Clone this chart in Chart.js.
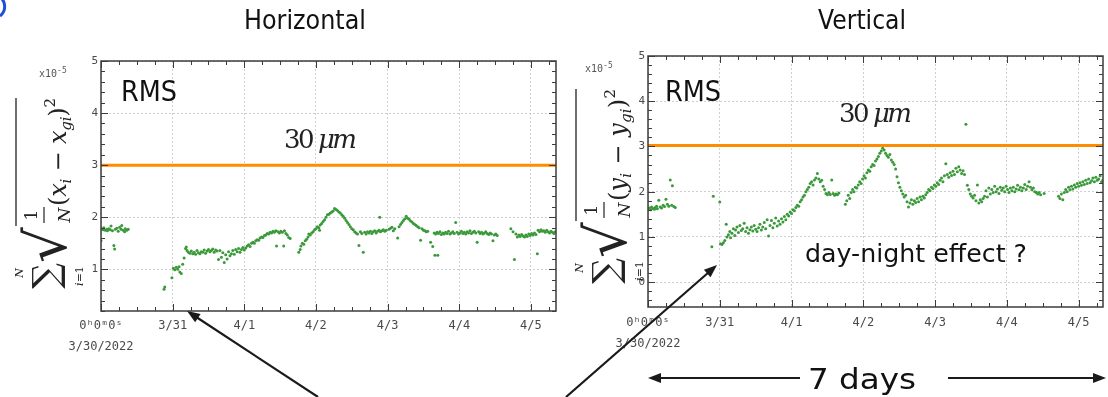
<!DOCTYPE html>
<html>
<head>
<meta charset="utf-8">
<script src="https://cdn.jsdelivr.net/npm/chart.js@4.4.1/dist/chart.umd.min.js"></script>
<style>
  html, body { margin: 0; padding: 0; background: #fff; }
  #page { position: relative; width: 1108px; height: 397px; overflow: hidden; }
  canvas { position: absolute; top: 0; }
  #hChart { left: 0; }
  #vChart { left: 560px; }
  #overlay { position: absolute; left: 0; top: 0; }
  .sans { font-family: 'DejaVu Sans', sans-serif; fill: #111; }
  .serif { font-family: 'DejaVu Serif', serif; fill: #222; }
  .mono { font-family: 'DejaVu Sans Mono', monospace; fill: #555; }
</style>
</head>
<body>
<div id="page">
  <canvas id="hChart" width="560" height="397"></canvas>
  <canvas id="vChart" width="548" height="397"></canvas>
  <svg id="overlay" width="1108" height="397">
    <path d="M 0 -3 A 12 12 0 0 1 0 16" fill="none" stroke="#1f4fd8" stroke-width="3"/>
    <text class="sans" x="305" y="29" font-size="27" text-anchor="middle" textLength="122" lengthAdjust="spacingAndGlyphs">Horizontal</text>
    <text class="sans" x="862" y="29" font-size="27" text-anchor="middle" textLength="88" lengthAdjust="spacingAndGlyphs">Vertical</text>

    <text class="mono" x="39" y="77" font-size="10">x10<tspan dy="-4" font-size="8">-5</tspan></text>
    <text class="mono" x="585" y="72" font-size="10">x10<tspan dy="-4" font-size="8">-5</tspan></text>

    <text class="sans" x="121" y="101" font-size="28" textLength="56" lengthAdjust="spacingAndGlyphs">RMS</text>
    <text class="sans" x="665" y="101" font-size="28" textLength="56" lengthAdjust="spacingAndGlyphs">RMS</text>

    <text class="serif" x="284" y="148" font-size="26" textLength="73" lengthAdjust="spacing">30 <tspan font-style="italic">μm</tspan></text>
    <text class="serif" x="839" y="122" font-size="26" textLength="73" lengthAdjust="spacing">30 <tspan font-style="italic">μm</tspan></text>

    <text class="sans" x="805" y="262" font-size="24" textLength="222" lengthAdjust="spacingAndGlyphs">day-night effect ?</text>
    <text class="sans" x="862" y="389" font-size="29" text-anchor="middle" textLength="108" lengthAdjust="spacingAndGlyphs">7 days</text>

    <!-- formula, horizontal -->
    <g transform="translate(0,290) rotate(-90)">
      <text class="serif" x="14" y="58" font-size="36" text-anchor="middle">∑</text>
      <text class="serif" x="17" y="23" font-size="11" font-style="italic" text-anchor="middle">N</text>
      <text class="serif" x="14" y="83" font-size="11" text-anchor="middle"><tspan font-style="italic">i</tspan>=1</text>
      <text class="serif" x="27" y="66" font-size="56">√</text>
      <line x1="64" y1="16" x2="192" y2="16" stroke="#222" stroke-width="1.3"/>
      <text class="serif" x="75" y="37" font-size="17" text-anchor="middle">1</text>
      <line x1="67" y1="44" x2="83" y2="44" stroke="#222" stroke-width="1.2"/>
      <text class="serif" x="75" y="70" font-size="17" font-style="italic" text-anchor="middle">N</text>
      <text class="serif" x="84" y="66" font-size="24" textLength="108" lengthAdjust="spacing">(<tspan font-style="italic">x</tspan><tspan font-size="15" dy="5" font-style="italic">i</tspan><tspan dy="-5"> − </tspan><tspan font-style="italic">x</tspan><tspan font-size="15" dy="5" font-style="italic">gi</tspan><tspan dy="-5">)</tspan><tspan font-size="15" dy="-11">2</tspan></text>
    </g>
    <!-- formula, vertical -->
    <g transform="translate(560,285) rotate(-90)">
      <text class="serif" x="14" y="58" font-size="36" text-anchor="middle">∑</text>
      <text class="serif" x="17" y="23" font-size="11" font-style="italic" text-anchor="middle">N</text>
      <text class="serif" x="14" y="83" font-size="11" text-anchor="middle"><tspan font-style="italic">i</tspan>=1</text>
      <text class="serif" x="27" y="66" font-size="56">√</text>
      <line x1="64" y1="16" x2="196" y2="16" stroke="#222" stroke-width="1.3"/>
      <text class="serif" x="75" y="37" font-size="17" text-anchor="middle">1</text>
      <line x1="67" y1="44" x2="83" y2="44" stroke="#222" stroke-width="1.2"/>
      <text class="serif" x="75" y="70" font-size="17" font-style="italic" text-anchor="middle">N</text>
      <text class="serif" x="84" y="66" font-size="24" textLength="112" lengthAdjust="spacing">(<tspan font-style="italic">y</tspan><tspan font-size="15" dy="5" font-style="italic">i</tspan><tspan dy="-5"> − </tspan><tspan font-style="italic">y</tspan><tspan font-size="15" dy="5" font-style="italic">gi</tspan><tspan dy="-5">)</tspan><tspan font-size="15" dy="-11">2</tspan></text>
    </g>
  </svg>
</div>
<script>
// RMS of beam position residuals, 3/30/2022 00:00 onwards (x = days, y = x1e-5)
const dayTicks = [0, 1, 2, 3, 4, 5, 6];
const dayLabels = [['0ʰ0ᵐ0ˢ', '3/30/2022'], '3/31', '4/1', '4/2', '4/3', '4/4', '4/5'];
const hYTicks = [1, 2, 3, 4, 5];
const vYTicks = [0, 1, 2, 3, 4, 5];
const hLimit = 3.0;   // 30 um
const vLimit = 3.02;

const hRmsPoints = [
  [0.00,1.55],[0.01,1.78],[0.03,1.76],[0.04,1.80],[0.06,1.75],[0.08,1.77],[0.09,1.74],[0.11,1.78],
  [0.13,1.76],[0.14,1.83],[0.16,1.74],[0.18,1.46],[0.19,1.39],[0.20,1.77],[0.22,1.79],[0.24,1.73],
  [0.26,1.81],[0.28,1.77],[0.29,1.84],[0.31,1.75],[0.33,1.72],[0.34,1.78],[0.36,1.75],[0.38,1.77],
  [0.88,0.62],[0.89,0.66],[0.99,0.84],[1.01,1.02],[1.03,0.99],[1.05,1.04],[1.07,1.00],[1.09,1.05],
  [1.10,0.95],[1.12,0.92],[1.14,1.10],[1.16,1.22],[1.18,1.40],[1.19,1.43],[1.20,1.36],[1.22,1.33],
  [1.24,1.31],[1.26,1.35],[1.28,1.30],[1.30,1.33],[1.32,1.29],[1.34,1.36],[1.36,1.32],[1.38,1.30],
  [1.40,1.34],[1.42,1.33],[1.44,1.37],[1.46,1.31],[1.48,1.35],[1.50,1.38],[1.52,1.34],[1.54,1.36],
  [1.56,1.39],[1.58,1.33],[1.60,1.37],[1.62,1.35],[1.64,1.19],[1.66,1.36],[1.68,1.23],[1.70,1.32],
  [1.72,1.13],[1.74,1.28],[1.76,1.20],[1.78,1.34],[1.80,1.26],[1.82,1.30],[1.84,1.36],[1.86,1.29],
  [1.88,1.38],[1.90,1.34],[1.92,1.40],[1.94,1.33],[1.96,1.38],[1.98,1.42],[2.00,1.37],[2.02,1.41],
  [2.04,1.45],[2.06,1.47],[2.08,1.44],[2.10,1.50],[2.12,1.52],[2.14,1.50],[2.16,1.55],[2.18,1.57],
  [2.20,1.56],[2.22,1.60],[2.24,1.62],[2.26,1.61],[2.28,1.65],[2.30,1.66],[2.32,1.69],[2.34,1.68],
  [2.36,1.71],[2.38,1.70],[2.40,1.73],[2.42,1.71],[2.44,1.74],[2.45,1.45],[2.47,1.72],[2.49,1.70],
  [2.51,1.73],[2.53,1.71],[2.55,1.45],[2.56,1.74],[2.58,1.69],[2.60,1.66],[2.62,1.61],[2.64,1.59],
  [2.76,1.33],[2.78,1.38],[2.79,1.45],[2.81,1.50],[2.83,1.48],[2.85,1.55],[2.87,1.58],[2.89,1.62],
  [2.90,1.68],[2.92,1.66],[2.94,1.70],[2.96,1.72],[2.98,1.76],[3.00,1.78],[3.02,1.82],[3.04,1.80],
  [3.05,1.75],[3.06,1.85],[3.08,1.88],[3.10,1.92],[3.12,1.95],[3.14,2.00],[3.16,2.05],[3.18,2.06],
  [3.20,2.08],[3.22,2.10],[3.24,2.12],[3.26,2.17],[3.28,2.15],[3.30,2.13],[3.32,2.10],[3.34,2.08],
  [3.36,2.05],[3.38,2.02],[3.40,1.98],[3.42,1.94],[3.44,1.90],[3.46,1.86],[3.48,1.82],[3.50,1.78],
  [3.52,1.76],[3.54,1.72],[3.56,1.70],[3.58,1.68],[3.60,1.46],[3.62,1.72],[3.64,1.69],[3.66,1.33],
  [3.68,1.71],[3.70,1.68],[3.72,1.72],[3.74,1.70],[3.76,1.73],[3.78,1.69],[3.80,1.72],[3.82,1.74],
  [3.84,1.70],[3.86,1.73],[3.88,1.75],[3.89,2.00],[3.90,1.72],[3.92,1.74],[3.94,1.76],[3.96,1.73],
  [3.98,1.75],[4.02,1.77],[4.04,1.79],[4.06,1.81],[4.08,1.74],[4.10,1.78],[4.14,1.60],[4.16,1.82],
  [4.18,1.86],[4.20,1.90],[4.22,1.94],[4.24,1.97],[4.26,2.02],[4.28,1.98],[4.30,1.96],[4.32,1.93],
  [4.34,1.91],[4.36,1.88],[4.38,1.86],[4.40,1.84],[4.42,1.82],[4.44,1.80],[4.46,1.56],[4.48,1.78],
  [4.50,1.75],[4.52,1.74],[4.54,1.72],[4.56,1.73],[4.60,1.52],[4.63,1.44],[4.66,1.27],[4.70,1.27],
  [4.65,1.70],[4.67,1.68],[4.69,1.71],[4.71,1.69],[4.73,1.72],[4.75,1.67],[4.77,1.70],[4.79,1.68],
  [4.81,1.71],[4.83,1.69],[4.85,1.73],[4.87,1.68],[4.89,1.70],[4.91,1.72],[4.93,1.69],[4.95,1.90],
  [4.97,1.71],[4.99,1.68],[5.01,1.70],[5.03,1.73],[5.05,1.69],[5.07,1.71],[5.09,1.68],[5.11,1.72],
  [5.13,1.70],[5.15,1.74],[5.17,1.69],[5.19,1.71],[5.21,1.73],[5.23,1.70],[5.25,1.52],[5.27,1.72],
  [5.29,1.69],[5.31,1.71],[5.33,1.68],[5.35,1.70],[5.37,1.72],[5.39,1.69],[5.41,1.67],[5.43,1.70],
  [5.45,1.68],[5.47,1.55],[5.49,1.66],[5.51,1.68],[5.53,1.65],
  [5.72,1.78],[5.75,1.72],[5.77,1.19],[5.79,1.68],[5.81,1.62],[5.83,1.66],[5.85,1.63],[5.87,1.67],
  [5.89,1.64],[5.91,1.62],[5.93,1.66],[5.95,1.63],[5.97,1.68],[5.99,1.65],[6.01,1.69],[6.03,1.66],
  [6.05,1.70],[6.07,1.67],[6.09,1.30],[6.10,1.75],[6.12,1.72],[6.14,1.76],[6.16,1.73],[6.18,1.74],
  [6.20,1.71],[6.22,1.75],[6.24,1.72],[6.26,1.70],[6.28,1.73],[6.30,1.71],[6.32,1.69],[6.34,1.72]
];

const vRmsPoints = [
  [0.00,1.62],[0.02,1.64],[0.04,1.60],[0.05,1.66],[0.07,1.63],[0.09,1.61],[0.10,1.65],[0.12,1.68],
  [0.13,1.62],[0.15,1.81],[0.17,1.66],[0.19,1.64],[0.21,1.70],[0.23,1.67],[0.25,1.83],[0.27,1.72],
  [0.29,1.68],[0.31,2.26],[0.33,1.70],[0.34,2.13],[0.36,1.67],[0.38,1.65],
  [0.89,0.78],[0.91,1.90],[1.00,1.77],[1.01,0.85],[1.03,0.83],[1.05,0.87],[1.07,0.92],[1.09,1.28],
  [1.10,1.00],[1.12,1.05],[1.14,1.12],[1.15,0.98],[1.17,1.08],[1.19,1.18],[1.21,1.03],[1.22,1.15],
  [1.24,1.22],[1.26,1.10],[1.28,1.25],[1.30,1.14],[1.32,1.18],[1.34,1.30],[1.36,1.12],[1.38,1.20],
  [1.40,1.08],[1.42,1.16],[1.44,1.22],[1.46,1.13],[1.48,1.25],[1.50,1.17],[1.52,1.12],[1.54,1.20],
  [1.56,1.28],[1.58,1.15],[1.60,1.22],[1.62,1.32],[1.64,1.18],[1.66,1.38],[1.68,1.02],[1.70,1.25],
  [1.72,1.36],[1.74,1.20],[1.76,1.30],[1.78,1.42],[1.80,1.24],[1.82,1.35],[1.84,1.28],[1.86,1.40],
  [1.88,1.33],[1.90,1.45],[1.92,1.38],[1.94,1.50],[1.96,1.46],[1.98,1.55],[2.00,1.52],[2.02,1.60],
  [2.04,1.58],[2.06,1.65],[2.08,1.70],[2.10,1.68],[2.12,1.78],[2.14,1.82],[2.16,1.88],[2.18,1.92],
  [2.20,2.00],[2.22,2.05],[2.24,2.10],[2.26,2.18],[2.28,2.22],[2.30,2.15],[2.32,2.26],[2.34,2.30],
  [2.36,2.40],[2.38,2.28],[2.40,2.22],[2.42,2.25],[2.44,2.12],[2.46,2.05],[2.48,1.96],[2.50,1.93],
  [2.52,1.98],[2.54,1.94],[2.56,2.26],[2.58,1.96],[2.60,1.92],[2.62,1.95],[2.64,1.93],[2.66,1.97],
  [2.75,1.72],[2.77,1.80],[2.79,1.92],[2.81,1.85],[2.83,1.98],[2.85,2.05],[2.87,2.00],[2.89,2.10],
  [2.91,2.08],[2.93,2.15],[2.95,2.22],[2.97,2.18],[2.99,2.28],[3.01,2.35],[3.03,2.30],[3.05,2.42],
  [3.07,2.48],[3.09,2.45],[3.11,2.55],[3.13,2.60],[3.15,2.58],[3.17,2.68],[3.19,2.72],[3.21,2.78],
  [3.23,2.85],[3.25,2.90],[3.27,2.96],[3.29,2.92],[3.31,2.85],[3.33,2.80],[3.35,2.76],[3.37,2.82],
  [3.39,2.70],[3.41,2.65],[3.43,2.60],[3.45,2.50],[3.47,2.33],[3.49,2.20],[3.51,2.10],[3.53,2.02],
  [3.55,1.95],[3.57,1.88],[3.59,1.92],[3.61,1.78],[3.63,1.66],[3.65,1.75],[3.67,1.82],[3.69,1.72],
  [3.71,1.80],[3.73,1.76],[3.75,1.85],[3.77,1.78],[3.79,1.88],[3.81,1.82],[3.83,1.90],[3.85,1.86],
  [3.87,1.93],[3.89,1.98],[3.91,2.05],[3.93,2.02],[3.95,2.10],[3.97,2.07],[3.99,2.15],[4.01,2.12],
  [4.03,2.20],[4.05,2.16],[4.07,2.25],[4.09,2.30],[4.11,2.22],[4.13,2.35],[4.15,2.62],[4.17,2.38],
  [4.19,2.32],[4.21,2.42],[4.23,2.36],[4.25,2.45],[4.27,2.38],[4.29,2.52],[4.31,2.44],[4.33,2.55],
  [4.35,2.48],[4.37,2.40],[4.39,2.46],[4.41,2.38],[4.43,3.49],[4.45,2.14],[4.47,2.05],[4.49,1.95],
  [4.51,1.90],[4.53,1.86],[4.55,1.92],[4.57,1.80],[4.59,2.15],[4.61,1.75],[4.63,1.82],[4.65,1.78],
  [4.67,1.85],[4.69,1.90],[4.71,2.02],[4.73,1.88],[4.75,2.08],[4.77,1.95],[4.79,2.05],[4.81,1.98],
  [4.83,2.12],[4.85,2.00],[4.87,2.06],[4.89,1.96],[4.91,2.10],[4.93,2.03],[4.95,2.08],[4.97,2.00],
  [4.99,2.12],[5.01,2.05],[5.03,1.98],[5.05,2.08],[5.07,2.02],[5.09,2.10],[5.11,2.00],[5.13,2.06],
  [5.15,2.14],[5.17,2.04],[5.19,2.10],[5.21,2.02],[5.23,2.08],[5.25,2.16],[5.27,2.05],[5.29,2.12],
  [5.31,2.22],[5.33,2.10],[5.35,2.04],[5.37,2.08],[5.39,2.00],[5.41,1.98],[5.43,1.95],[5.45,1.98],
  [5.47,1.93],[5.52,1.96],
  [5.72,1.90],[5.74,1.85],[5.76,1.95],[5.78,1.82],[5.80,1.98],[5.82,2.05],[5.84,2.00],[5.86,2.10],
  [5.88,2.04],[5.90,2.12],[5.92,2.06],[5.94,2.15],[5.96,2.10],[5.98,2.18],[6.00,2.12],[6.02,2.20],
  [6.04,2.14],[6.06,2.22],[6.08,2.16],[6.10,2.25],[6.12,2.18],[6.14,2.28],[6.16,2.20],[6.18,2.24],
  [6.20,2.30],[6.22,2.22],[6.24,2.32],[6.26,2.25],[6.28,2.28],[6.30,2.35],[6.32,2.22],[6.34,2.26]
];

// frame + inward ticks on all four sides, like the original plot package
const frameTicks = {
  id: 'frameTicks',
  afterDatasetsDraw(chart) {
    const { ctx, chartArea: a, scales: { x, y } } = chart;
    ctx.save();
    ctx.strokeStyle = '#3c3c3c';
    ctx.lineWidth = 1;
    ctx.beginPath();
    for (let d = Math.ceil(x.min * 4) / 4; d <= x.max + 1e-9; d += 0.25) {
      const px = Math.round(x.getPixelForValue(d)) + 0.5;
      const len = Math.abs(d - Math.round(d)) < 1e-6 ? 7 : 4;
      ctx.moveTo(px, a.bottom); ctx.lineTo(px, a.bottom - len);
      ctx.moveTo(px, a.top); ctx.lineTo(px, a.top + len);
    }
    for (let v = Math.ceil(y.min * 5) / 5; v <= y.max + 1e-9; v += 0.2) {
      const py = Math.round(y.getPixelForValue(v)) + 0.5;
      const len = Math.abs(v - Math.round(v)) < 1e-6 ? 7 : 4;
      ctx.moveTo(a.left, py); ctx.lineTo(a.left + len, py);
      ctx.moveTo(a.right, py); ctx.lineTo(a.right - len, py);
    }
    ctx.stroke();
    ctx.lineWidth = 1.5;
    ctx.strokeRect(a.left, a.top, a.right - a.left, a.bottom - a.top);
    ctx.restore();
  }
};

function buildChart(id, points, limit, yMin, yTicks, box) {
  return new Chart(document.getElementById(id), {
    type: 'scatter',
    data: {
      datasets: [
        {
          type: 'line',
          data: [{ x: box.xMin, y: limit }, { x: box.xMax, y: limit }],
          borderColor: '#ff8c00', borderWidth: 3, pointRadius: 0, order: 2
        },
        {
          data: points.map(p => ({ x: p[0], y: p[1] })),
          backgroundColor: '#3a9a3a', pointRadius: 1.5, borderWidth: 0, order: 1
        }
      ]
    },
    options: {
      responsive: false,
      animation: false,
      layout: { padding: { top: box.top, right: box.right, left: 0, bottom: 0 } },
      plugins: { legend: { display: false }, tooltip: { enabled: false } },
      scales: {
        x: {
          type: 'linear', min: box.xMin, max: box.xMax,
          afterBuildTicks: s => { s.ticks = dayTicks.map(v => ({ value: v })); },
          afterFit: s => { s.height = box.xAxisH; },
          grid: { color: '#cfcfcf', drawTicks: false },
          border: { display: false, dash: [2, 2] },
          ticks: {
            padding: box.xPad, maxRotation: 0, autoSkip: false, color: '#4a4a4a',
            font: { family: 'DejaVu Sans Mono', size: 12, lineHeight: 1.7 },
            callback: (v, i) => dayLabels[i]
          }
        },
        y: {
          min: yMin, max: 5,
          afterBuildTicks: s => { s.ticks = yTicks.map(v => ({ value: v })); },
          afterFit: s => { s.width = box.yAxisW; },
          grid: { color: '#cfcfcf', drawTicks: false },
          border: { display: false, dash: [2, 2] },
          ticks: {
            padding: 3, color: '#4a4a4a',
            font: { family: 'DejaVu Sans Mono', size: 11 },
            callback: v => String(v)
          }
        }
      }
    },
    plugins: [frameTicks]
  });
}

buildChart('hChart', hRmsPoints, hLimit, 0.2, hYTicks,
  { xMin: 0, xMax: 6.35, top: 61, right: 4, yAxisW: 101, xAxisH: 86, xPad: 5 });
buildChart('vChart', vRmsPoints, vLimit, -0.55, vYTicks,
  { xMin: 0, xMax: 6.34, top: 56, right: 5, yAxisW: 88, xAxisH: 90, xPad: 6 });

// annotation arrows
function arrow(x1, y1, x2, y2) {
  const svg = document.getElementById('overlay');
  const ns = 'http://www.w3.org/2000/svg';
  const dx = x2 - x1, dy = y2 - y1, len = Math.hypot(dx, dy);
  const ux = dx / len, uy = dy / len, hl = 13, hw = 5;
  const bx = x2 - ux * hl, by = y2 - uy * hl;
  const line = document.createElementNS(ns, 'line');
  line.setAttribute('x1', x1); line.setAttribute('y1', y1);
  line.setAttribute('x2', bx + ux * 2); line.setAttribute('y2', by + uy * 2);
  line.setAttribute('stroke', '#1a1a1a'); line.setAttribute('stroke-width', 2.2);
  svg.appendChild(line);
  const head = document.createElementNS(ns, 'polygon');
  head.setAttribute('points', [x2, y2, bx - uy * hw, by + ux * hw, bx + uy * hw, by - ux * hw].join(' '));
  head.setAttribute('fill', '#1a1a1a');
  svg.appendChild(head);
}
arrow(318, 397, 187, 311);
arrow(566, 397, 717, 265);
arrow(800, 378, 648, 378);
arrow(948, 378, 1106, 378);
</script>
</body>
</html>
